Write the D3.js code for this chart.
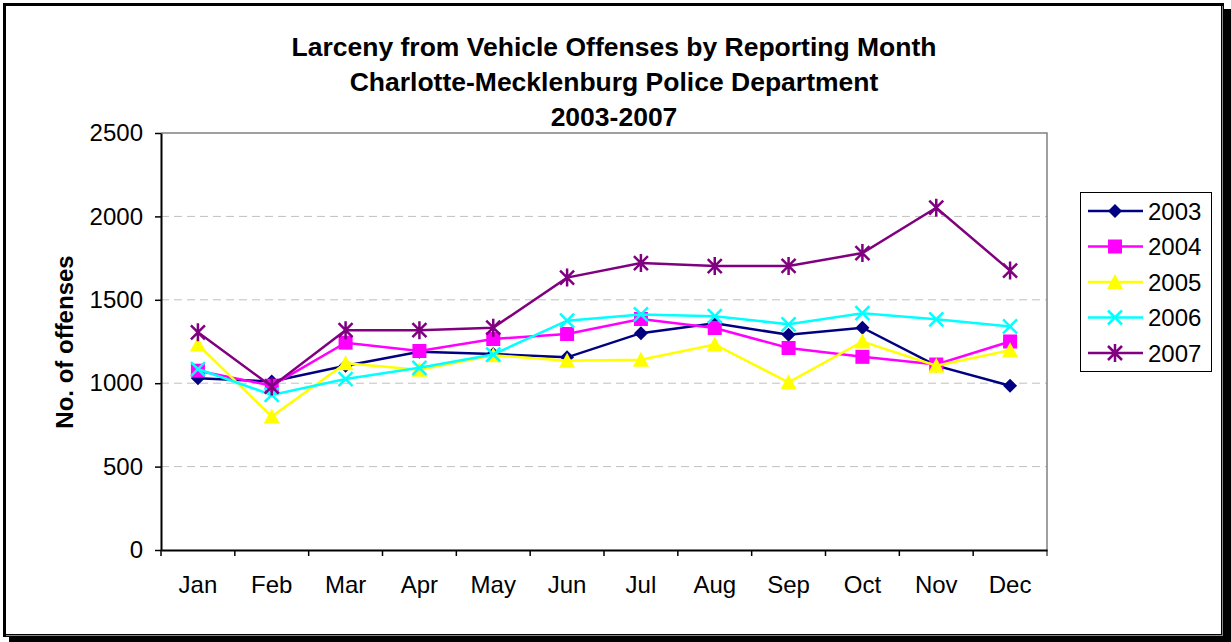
<!DOCTYPE html>
<html>
<head>
<meta charset="utf-8">
<script src="https://cdn.jsdelivr.net/npm/d3@7"></script>
<style>
  body { margin: 0; background: #fff; }
  text { font-family: "Liberation Sans", Arial, sans-serif; }
</style>
</head>
<body>
<div id="chart"></div>
<script>
const months = ["Jan", "Feb", "Mar", "Apr", "May", "Jun", "Jul", "Aug", "Sep", "Oct", "Nov", "Dec"];
const years = ["2003", "2004", "2005", "2006", "2007"];
const v2003 = [1030, 1010, 1105, 1188, 1175, 1155, 1300, 1360, 1290, 1333, 1105, 985];
const v2004 = [1075, 985, 1243, 1193, 1265, 1295, 1385, 1331, 1211, 1158, 1112, 1250];
const v2005 = [1232, 800, 1120, 1080, 1168, 1135, 1140, 1232, 1005, 1250, 1105, 1198];
const v2006 = [1085, 930, 1025, 1092, 1172, 1375, 1412, 1402, 1353, 1420, 1383, 1340];
const v2007 = [1305, 980, 1318, 1318, 1333, 1633, 1720, 1702, 1703, 1780, 2052, 1675];
const yTicks = [0, 500, 1000, 1500, 2000, 2500];

const colors = ["#000080", "#FF00FF", "#FFFF00", "#00FFFF", "#800080"];
const shapes = ["diamond", "square", "triangle", "x", "star"];
const seriesValues = [v2003, v2004, v2005, v2006, v2007];

const width = 1231, height = 642;
const plot = { left: 161, right: 1047, top: 133, bottom: 550 };
const font = "'Liberation Sans', Arial, sans-serif";

const svg = d3.select("#chart").append("svg")
    .attr("width", width)
    .attr("height", height);

// frame with shadow
svg.append("rect").attr("x", 9).attr("y", 9).attr("width", 1222).attr("height", 633).attr("fill", "#000");
svg.append("rect").attr("x", 4.5).attr("y", 4.5).attr("width", 1218).attr("height", 631)
    .attr("fill", "#fff").attr("stroke", "#000").attr("stroke-width", 3);
svg.append("line").attr("x1", 6).attr("x2", 1223).attr("y1", 635.5).attr("y2", 635.5).attr("stroke", "#888");
svg.append("line").attr("x1", 1222.5).attr("x2", 1222.5).attr("y1", 6).attr("y2", 636).attr("stroke", "#888");

// title
const titleLines = ["Larceny from Vehicle Offenses by Reporting Month",
    "Charlotte-Mecklenburg Police Department", "2003-2007"];
svg.append("g").selectAll("text").data(titleLines).join("text")
    .attr("x", 614).attr("y", (d, i) => 56 + i * 35)
    .attr("text-anchor", "middle")
    .attr("font-size", 26.5).attr("font-weight", "bold")
    .text(d => d);

const x = d3.scaleBand().domain(months).range([plot.left, plot.right]);
const y = d3.scaleLinear().domain([0, 2500]).range([plot.bottom, plot.top]);

// gridlines
svg.append("g").selectAll("line").data(yTicks.filter(d => d > 0 && d < 2500)).join("line")
    .attr("x1", plot.left).attr("x2", plot.right)
    .attr("y1", d => y(d)).attr("y2", d => y(d))
    .attr("stroke", "#c0c0c0").attr("stroke-dasharray", "8,5");

// plot border (top/right)
svg.append("path")
    .attr("d", `M${plot.left},${plot.top}H${plot.right}V${plot.bottom}`)
    .attr("fill", "none").attr("stroke", "#808080").attr("stroke-width", 1.5);

// axes
const yAxis = svg.append("g")
    .attr("transform", `translate(${plot.left},0)`)
    .call(d3.axisLeft(y).tickValues(yTicks).tickFormat(d3.format("d")).tickSize(6).tickPadding(12).tickSizeOuter(0));
const xAxis = svg.append("g")
    .attr("transform", `translate(0,${plot.bottom})`)
    .call(d3.axisBottom(x).tickSize(6).tickPadding(20).tickSizeOuter(0));
xAxis.selectAll(".tick line").attr("transform", `translate(${-x.bandwidth() / 2},0)`);
xAxis.append("line").attr("x1", plot.right).attr("x2", plot.right).attr("y1", 0).attr("y2", 6).attr("stroke", "#000");
[yAxis, xAxis].forEach(g => {
    g.attr("font-family", font).attr("font-size", 24);
    g.select(".domain").attr("stroke", "#000").attr("stroke-width", 2);
    g.selectAll(".tick line").attr("stroke", "#000").attr("stroke-width", 1.5);
    g.selectAll("text").attr("fill", "#000");
});

svg.append("text")
    .attr("transform", "translate(73,342) rotate(-90)")
    .attr("text-anchor", "middle")
    .attr("font-size", 24).attr("font-weight", "bold")
    .text("No. of offenses");

function drawMarker(g, shape, color) {
    if (shape === "diamond") {
        g.append("path").attr("d", "M0,-7L7,0L0,7L-7,0Z").attr("fill", color);
    } else if (shape === "square") {
        g.append("rect").attr("x", -7).attr("y", -7).attr("width", 14).attr("height", 14).attr("fill", color);
    } else if (shape === "triangle") {
        g.append("path").attr("d", "M0,-8L8,7L-8,7Z").attr("fill", color);
    } else if (shape === "x") {
        g.append("path").attr("d", "M-7,-7L7,7M7,-7L-7,7").attr("stroke", color).attr("stroke-width", 2.5);
    } else {
        g.append("path").attr("d", "M-7,-7L7,7M7,-7L-7,7M0,-9V9").attr("stroke", color).attr("stroke-width", 2.5);
    }
}

const line = d3.line().x((d, i) => x(months[i]) + x.bandwidth() / 2).y(d => y(d));

seriesValues.forEach((vals, s) => {
    const g = svg.append("g");
    g.append("path").attr("d", line(vals)).attr("fill", "none")
        .attr("stroke", colors[s]).attr("stroke-width", 2.5);
    vals.forEach((v, i) => {
        const m = g.append("g").attr("transform", `translate(${x(months[i]) + x.bandwidth() / 2},${y(v)})`);
        drawMarker(m, shapes[s], colors[s]);
    });
});

// legend
const legend = svg.append("g");
legend.append("rect").attr("x", 1080.5).attr("y", 192.5).attr("width", 131).attr("height", 179)
    .attr("fill", "#fff").attr("stroke", "#000");
years.forEach((yr, i) => {
    const ly = 211 + i * 35.5;
    const g = legend.append("g");
    g.append("line").attr("x1", 1088).attr("x2", 1143).attr("y1", ly).attr("y2", ly)
        .attr("stroke", colors[i]).attr("stroke-width", 2.5);
    drawMarker(g.append("g").attr("transform", `translate(1115,${ly})`), shapes[i], colors[i]);
    g.append("text").attr("x", 1148).attr("y", ly + 8.5).attr("font-size", 24).text(yr);
});
</script>
</body>
</html>
